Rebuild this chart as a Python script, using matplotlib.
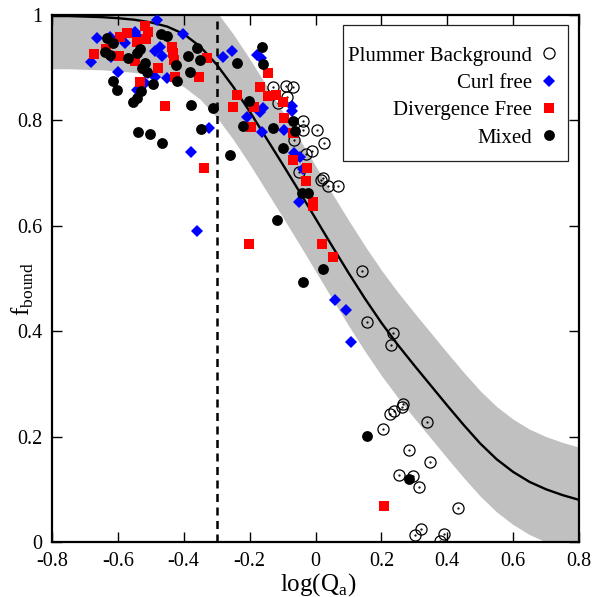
import numpy as np
import matplotlib
matplotlib.use("Agg")
import matplotlib.pyplot as plt
from matplotlib.patches import Rectangle

plt.rcParams['font.family'] = ['Liberation Serif', 'DejaVu Serif']

# fitted curve f_bound(log Q_a)
fit_x = [-0.80, -0.75, -0.70, -0.65, -0.60, -0.55, -0.50, -0.45, -0.40, -0.35, -0.30,
         -0.25, -0.20, -0.15, -0.10, -0.05, 0.00, 0.05, 0.10, 0.15, 0.20, 0.25,
         0.30, 0.35, 0.40, 0.45, 0.50, 0.55, 0.60, 0.65, 0.70, 0.75, 0.80]
fit_y = [0.998, 0.998, 0.997, 0.996, 0.994, 0.991, 0.986, 0.978, 0.964, 0.940, 0.906,
         0.864, 0.817, 0.767, 0.717, 0.666, 0.614, 0.562, 0.511, 0.462, 0.416, 0.374,
         0.335, 0.297, 0.259, 0.222, 0.187, 0.157, 0.133, 0.114, 0.100, 0.089, 0.080]
band = 0.1          # half width of the grey band
q_crit = -0.3       # dashed vertical line

plummer_x = [-0.129, -0.090, -0.068, -0.087, -0.114, -0.038, -0.038, 0.005, 0.026, -0.065,
             -0.011, -0.029, -0.050, 0.017, 0.023, 0.038, 0.068, 0.141, 0.156, 0.235,
             0.229, 0.266, 0.263, 0.238, 0.226, 0.205, 0.338, 0.284, 0.348, 0.254,
             0.296, 0.314, 0.433, 0.320, 0.302, 0.390, 0.378]
plummer_y = [0.863, 0.865, 0.863, 0.844, 0.833, 0.799, 0.782, 0.782, 0.757, 0.763,
             0.742, 0.736, 0.702, 0.687, 0.691, 0.676, 0.676, 0.514, 0.417, 0.397,
             0.374, 0.262, 0.256, 0.249, 0.243, 0.214, 0.228, 0.175, 0.152, 0.127,
             0.125, 0.104, 0.065, 0.025, 0.013, 0.015, 0.002]

curl_x = [-0.481, -0.663, -0.624, -0.578, -0.548, -0.542, -0.402, -0.472, -0.487, -0.466,
          -0.682, -0.621, -0.600, -0.508, -0.487, -0.451, -0.518, -0.542, -0.281, -0.253,
          -0.178, -0.165, -0.159, -0.168, -0.071, -0.071, -0.208, -0.162, -0.096, -0.323,
          -0.378, -0.065, -0.047, -0.038, -0.050, 0.059, 0.093, 0.108, -0.360]
curl_y = [0.991, 0.956, 0.958, 0.947, 0.968, 0.960, 0.964, 0.939, 0.932, 0.922,
          0.911, 0.920, 0.892, 0.890, 0.882, 0.880, 0.871, 0.858, 0.920, 0.932,
          0.924, 0.918, 0.824, 0.816, 0.827, 0.818, 0.806, 0.778, 0.782, 0.786,
          0.740, 0.738, 0.731, 0.708, 0.645, 0.459, 0.440, 0.380, 0.590]

div_x = [-0.518, -0.508, -0.515, -0.542, -0.572, -0.594, -0.672, -0.636, -0.597, -0.548,
         -0.436, -0.433, -0.430, -0.478, -0.533, -0.427, -0.354, -0.329, -0.456, -0.339,
         -0.144, -0.169, -0.238, -0.250, -0.144, -0.120, -0.099, -0.187, -0.096, -0.196,
         -0.068, -0.068, -0.026, -0.029, -0.008, -0.008, -0.202, 0.020, 0.053, 0.208]
div_y = [0.979, 0.968, 0.954, 0.949, 0.966, 0.958, 0.926, 0.935, 0.922, 0.913,
         0.939, 0.928, 0.915, 0.899, 0.873, 0.882, 0.882, 0.918, 0.827, 0.710,
         0.890, 0.863, 0.848, 0.825, 0.846, 0.848, 0.835, 0.825, 0.805, 0.787,
         0.776, 0.725, 0.710, 0.685, 0.645, 0.638, 0.565, 0.565, 0.541, 0.068]

mixed_x = [-0.633, -0.615, -0.639, -0.624, -0.569, -0.542, -0.533, -0.518, -0.527, -0.512,
           -0.615, -0.603, -0.530, -0.493, -0.554, -0.542, -0.469, -0.451, -0.424, -0.420,
           -0.381, -0.360, -0.351, -0.387, -0.378, -0.312, -0.539, -0.502, -0.466, -0.348,
           -0.260, -0.238, -0.162, -0.159, -0.202, -0.220, -0.129, -0.099, -0.068, -0.062,
           -0.041, -0.023, -0.117, 0.023, -0.038, 0.156, 0.284]
mixed_y = [0.956, 0.947, 0.930, 0.924, 0.918, 0.928, 0.935, 0.909, 0.899, 0.892,
           0.875, 0.858, 0.856, 0.869, 0.835, 0.843, 0.964, 0.960, 0.905, 0.875,
           0.892, 0.937, 0.915, 0.922, 0.829, 0.824, 0.778, 0.774, 0.757, 0.784,
           0.734, 0.909, 0.939, 0.907, 0.837, 0.789, 0.786, 0.748, 0.799, 0.780,
           0.662, 0.662, 0.611, 0.518, 0.493, 0.201, 0.120]

xticks = [-0.8, -0.6, -0.4, -0.2, 0.0, 0.2, 0.4, 0.6, 0.8]
xtick_labels = ["-0.8", "-0.6", "-0.4", "-0.2", "0", "0.2", "0.4", "0.6", "0.8"]
yticks = [0, 0.2, 0.4, 0.6, 0.8, 1.0]
ytick_labels = ["0", "0.2", "0.4", "0.6", "0.8", "1"]

fig = plt.figure(figsize=(5.96, 5.97), dpi=100)
ax = fig.add_axes([52 / 596, 1 - 542 / 597, 527 / 596, 527 / 597])

fx = np.array(fit_x); fy = np.array(fit_y)
ax.fill_between(fx, fy - band, fy + band, color='#c0c0c0', lw=0, zorder=1)
ax.plot(fx, fy, '-', color='k', lw=1.7, zorder=2)
ax.axvline(q_crit, color='k', lw=1.8, ls=(0, (3.2, 2.2)), zorder=2)

ax.plot(plummer_x, plummer_y, 'o', ms=8, mfc='none', mec='k', mew=0.9, zorder=3,
        label='Plummer Background')
ax.plot(plummer_x, plummer_y, '.', ms=1.2, color='k', zorder=3)
ax.plot(curl_x, curl_y, 'D', ms=6.3, color='#0000ff', mew=0, zorder=4, label='Curl free')
ax.plot(div_x, div_y, 's', ms=7, color='#ff0000', mew=0, zorder=5, label='Divergence Free')
ax.plot(mixed_x, mixed_y, 'o', ms=7.8, color='k', mew=0, zorder=6, label='Mixed')

ax.set_xlim(-0.8, 0.8)
ax.set_ylim(0, 1)
ax.set_xticks(xticks); ax.set_xticklabels(xtick_labels)
ax.set_yticks(yticks); ax.set_yticklabels(ytick_labels)
ax.tick_params(direction='in', top=True, right=True, length=7, width=1,
               labelsize=14.5, pad=7)
for s in ax.spines.values():
    s.set_linewidth(1.6)

ax.set_xlabel(r'log(Q$_{\mathregular{a}}$)', fontsize=18)
ax.xaxis.set_label_coords(0.505, -0.081)
ax.xaxis.label.set_va('center')
ax.set_ylabel(r'f$_{\mathregular{bound}}$', fontsize=18)
ax.yaxis.set_label_coords(-0.056, 0.48)
ax.yaxis.label.set_va('center')

# legend: gnuplot-style box, text right-aligned left of the symbol
ax.add_patch(Rectangle((0.552, 0.723), 0.427, 0.258, transform=ax.transAxes,
                       facecolor='white', edgecolor='#222222', lw=0.9, zorder=7))
leg = ax.legend(loc='upper right', bbox_to_anchor=(0.959, 0.941), borderaxespad=0,
                markerfirst=False, numpoints=1, fontsize=15, handlelength=0.8,
                handletextpad=0.42, borderpad=0, labelspacing=0.37, frameon=False)
leg.set_zorder(8)

fig.savefig('out.png', dpi=100)
